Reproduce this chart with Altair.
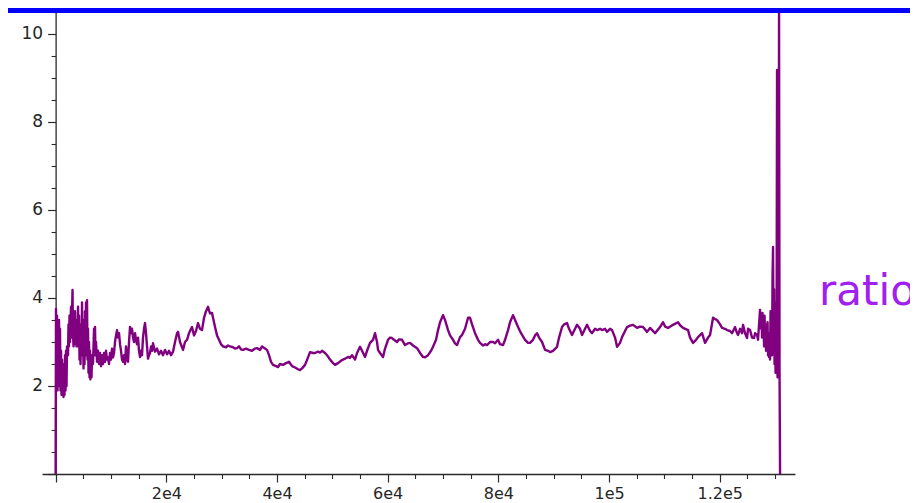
import altair as alt
import pandas as pd

# ---- data ----
x_start = [0, 70, 163, 253, 343, 434, 524, 614, 705, 795,
           885, 976, 1066, 1156, 1247, 1337, 1428, 1518, 1608, 1699,
           1789, 1879, 1970, 2060, 2241, 2331, 2421, 2512, 2602, 2783,
           2873, 3054, 3144, 3235, 3325, 3415, 3506, 3596, 3686, 3777,
           3867, 3957, 4048, 4138, 4228, 4319, 4409, 4499, 4590, 4680,
           4770, 4861, 4951, 5042, 5132, 5222, 5313, 5403, 5493, 5584,
           5674, 5764, 5855, 5945, 6035, 6126, 6216, 6306, 6397, 6487,
           6577, 6758, 6939, 7029, 7120, 7210, 7300, 7481, 7662, 7842]
y_start = [0.0, 3.75, 2.2, 3.6, 1.9, 3.1, 2.0, 3.5, 2.3, 3.3,
           1.9, 2.8, 1.8, 2.6, 1.85, 2.5, 1.75, 2.3, 1.8, 2.7,
           1.9, 2.8, 2.0, 2.9, 2.7, 3.4, 2.9, 3.6, 3.0, 3.8,
           3.1, 4.18, 3.2, 2.9, 3.5, 2.95, 3.7, 3.0, 3.5, 2.9,
           3.3, 2.9, 3.8, 3.0, 3.6, 2.6, 3.4, 2.5, 3.2, 2.7,
           3.9, 2.8, 3.5, 2.4, 3.2, 2.5, 3.7, 2.7, 3.9, 2.9,
           3.95, 2.6, 3.3, 2.3, 3.0, 2.2, 2.8, 2.15, 2.6, 2.2,
           2.7, 2.5, 3.3, 2.8, 3.34, 2.7, 3.0, 2.55, 2.8, 2.5]

x_early = [8023, 8204, 8385, 8565, 8746, 8927, 9107, 9288, 9469, 9649,
           9830, 10011, 10191, 10372, 10553, 10734, 10914, 11095, 11276, 11456,
           11637, 11818, 11998, 12179, 12360, 12541, 12721, 12902, 13083, 13263,
           13444, 13625, 13805, 13986, 14167, 14348, 14528, 14709, 14890, 15070,
           15251, 15432, 15612, 15793, 15974, 16155, 16335, 16516, 16697, 16877,
           17058, 17239, 17419, 17600]
y_early = [2.75, 2.45, 2.7, 2.5, 2.75, 2.55, 2.8, 2.6, 2.65, 2.5,
           2.75, 2.6, 2.85, 2.65, 2.75, 3.0, 3.15, 3.27, 3.1, 3.2,
           2.95, 2.8, 2.6, 2.55, 2.7, 2.5, 2.9, 2.6, 2.55, 3.0,
           3.34, 3.2, 3.3, 3.1, 3.0, 3.2, 3.05, 2.95, 3.1, 2.8,
           2.66, 2.8, 2.7, 3.1, 3.3, 3.43, 3.2, 2.9, 2.62, 2.7,
           2.75, 2.9, 2.8, 2.97]

x_main = [17962, 18323, 18684, 19046, 19407, 19769, 20130, 20491, 20853, 21214,
          21576, 21937, 22118, 22479, 22840, 23021, 23383, 23744, 24105, 24467,
          24647, 25009, 25370, 25732, 26093, 26454, 26816, 27177, 27539, 27719,
          27900, 28261, 28442, 28804, 29165, 29526, 29888, 30249, 30791, 31153,
          31514, 32056, 32418, 32779, 33140, 33502, 33863, 34405, 34947, 35489,
          36032, 36393, 36935, 37296, 37839, 38200, 38561, 38923, 39284, 39826,
          40188, 40549, 41091, 41633, 42176, 42718, 43260, 43802, 44163, 44525,
          45067, 45609, 45970, 46513, 46874, 47416, 47777, 48139, 48681, 49042,
          49584, 50126, 50488, 51030, 51753, 52295, 52837, 53198, 53559, 54102,
          54463, 55005, 55366, 55909, 56270, 56812, 57354, 57716, 58077, 58258,
          58619, 59161, 59523, 60065, 60426, 60787, 61149, 61691, 62052, 62595,
          63137, 63679, 64040, 64582, 65305, 65847, 66389, 66751, 67293, 67835,
          68196, 68738, 69100, 69461, 70003, 70365, 70907, 71268, 71810, 72172,
          72532, 73075, 73436, 73979, 74521, 74882, 75243, 75786, 76328, 76689,
          77231, 77593, 77954, 78496, 79038, 79400, 79942, 80303, 80845, 81207,
          81749, 82110, 82652, 83014, 83556, 84098, 84821, 85363, 85724, 86266,
          86628, 86989, 87350, 87893, 88435, 88977, 89338, 89880, 90603, 90964,
          91506, 91868, 92410, 92771, 93313, 93856, 94217, 94759, 95120, 95663,
          96024, 96566, 96927, 97470, 97831, 98373, 98734, 99277, 99638, 100180,
          100541, 101084, 101445, 101987, 102348, 102891, 103252, 103794, 104336, 105059,
          105601, 106143, 106866, 107408, 108312, 109215, 109757, 110119, 110661, 111564,
          112468, 112829, 113371, 114275, 114636, 115178, 115720, 116081, 116804, 117346,
          117888, 118250, 118792, 119153, 119514, 120057, 120418, 120960, 121321, 121864,
          122225, 122767, 123128, 123309, 123671, 124032, 124213, 124574, 124935, 125116,
          125478, 125839, 126200, 126381, 126742]
y_main = [2.78, 2.85, 2.72, 2.8, 2.7, 2.82, 2.72, 2.8, 2.7, 2.78,
          3.0, 3.2, 3.23, 3.0, 2.88, 2.82, 3.0, 3.05, 3.2, 3.3,
          3.34, 3.15, 3.25, 3.43, 3.3, 3.27, 3.55, 3.7, 3.8, 3.72,
          3.65, 3.66, 3.55, 3.34, 3.15, 3.05, 2.95, 2.9, 2.88, 2.92,
          2.9, 2.88, 2.85, 2.86, 2.9, 2.83, 2.82, 2.85, 2.82, 2.8,
          2.85, 2.86, 2.82, 2.9, 2.85, 2.82, 2.7, 2.55, 2.48, 2.45,
          2.43, 2.5, 2.48, 2.52, 2.55, 2.45, 2.42, 2.38, 2.36, 2.4,
          2.48, 2.65, 2.77, 2.75, 2.75, 2.78, 2.76, 2.8, 2.75, 2.7,
          2.6, 2.52, 2.48, 2.52, 2.59, 2.62, 2.66, 2.64, 2.7, 2.6,
          2.75, 2.89, 2.8, 2.66, 2.8, 2.98, 3.05, 3.2, 3.0, 2.82,
          2.75, 2.66, 2.85, 3.05, 3.1, 3.09, 3.05, 3.0, 3.06, 3.05,
          2.93, 2.97, 2.98, 2.92, 2.86, 2.75, 2.66, 2.65, 2.7, 2.8,
          2.89, 3.05, 3.27, 3.45, 3.61, 3.5, 3.27, 3.15, 3.05, 2.97,
          2.93, 3.11, 3.16, 3.3, 3.55, 3.55, 3.4, 3.2, 3.05, 2.98,
          2.92, 2.95, 2.93, 3.0, 3.0, 2.97, 3.05, 2.95, 2.93, 3.05,
          3.27, 3.45, 3.61, 3.5, 3.34, 3.2, 3.05, 2.98, 2.98, 3.05,
          3.15, 3.2, 3.1, 3.0, 2.82, 2.8, 2.77, 2.8, 2.89, 3.1,
          3.34, 3.4, 3.43, 3.3, 3.16, 3.3, 3.39, 3.3, 3.16, 3.3,
          3.39, 3.25, 3.2, 3.3, 3.27, 3.3, 3.27, 3.3, 3.23, 3.3,
          3.27, 3.1, 2.89, 2.98, 3.11, 3.25, 3.34, 3.37, 3.39, 3.32,
          3.35, 3.34, 3.23, 3.32, 3.2, 3.34, 3.45, 3.35, 3.32, 3.39,
          3.45, 3.38, 3.32, 3.27, 3.1, 2.98, 3.05, 3.11, 3.2, 2.98,
          3.1, 3.16, 3.55, 3.52, 3.5, 3.4, 3.32, 3.3, 3.27, 3.25,
          3.2, 3.34, 3.2, 3.16, 3.3, 3.2, 3.39, 3.2, 3.09, 3.3,
          3.27, 3.1, 3.09, 3.2, 3.16]

x_end = [126923, 127104, 127285, 127465, 127556, 127646, 127736, 127827, 127917, 128008,
         128098, 128188, 128279, 128369, 128459, 128550, 128640, 128730, 128821, 128911,
         129001, 129092, 129182, 129272, 129363, 129453, 129543, 129634, 129724, 129815,
         129905, 129995, 130086, 130176, 130266, 130357, 130447, 130537, 130628, 130718,
         130808, 130899]
y_end = [3.05, 3.4, 3.73, 3.3, 3.6, 3.1, 3.66, 3.2, 3.5, 2.9,
         3.6, 3.1, 3.4, 2.8, 3.3, 2.9, 3.45, 2.7, 3.2, 2.66,
         3.0, 2.6, 3.7, 2.9, 3.5, 2.7, 4.5, 5.16, 3.0, 4.2,
         2.5, 3.9, 2.3, 3.6, 2.4, 9.18, 2.2, 6.0, 3.0, 10.5,
         2.3, 0.0]

x_major = [0, 20000, 40000, 60000, 80000, 100000, 120000]
x_major_labels = ["", "2e4", "4e4", "6e4", "8e4", "1e5", "1.2e5"]
y_major = [0, 2, 4, 6, 8, 10]
y_major_labels = ["", "2", "4", "6", "8", "10"]
x_minor = [v for v in range(5000, 135000, 5000) if v % 20000 != 0]
y_minor = [v / 2 for v in range(1, 22) if v % 4 != 0]

x_domain = [-2460, 133600]
y_domain = [0, 10.59]
side_label = "ratio"

xs = x_start + x_early + x_main + x_end
ys = y_start + y_early + y_main + y_end
assert len(xs) == len(ys), (len(xs), len(ys))
df = pd.DataFrame({"x": xs, "y": ys})

W, H = 753, 466
y_axis_offset = -W * (0 - x_domain[0]) / (x_domain[1] - x_domain[0])


def label_expr(vals, labels):
    expr = "''"
    for v, l in zip(vals, labels):
        expr = f"datum.value == {v} ? '{l}' : ({expr})"
    return expr


AX = "#2a2a2a"
FONT = "DejaVu Sans"

xs_scale = alt.Scale(domain=x_domain, nice=False, zero=False)
ys_scale = alt.Scale(domain=y_domain, nice=False, zero=False)

line = alt.Chart(df).mark_line(color="#800080", strokeWidth=2.4, strokeJoin="round").encode(
    x=alt.X("x:Q", scale=xs_scale, title=None,
            axis=alt.Axis(orient="bottom", values=x_major,
                          labelExpr=label_expr(x_major, x_major_labels),
                          grid=False, tickSize=8, tickWidth=1.2, tickColor=AX,
                          domainColor=AX, domainWidth=1.3,
                          labelFont=FONT, labelFontSize=16, labelColor="#262626",
                          labelPadding=3, labelOverlap=False, labelFlush=False)),
    y=alt.Y("y:Q", scale=ys_scale, title=None,
            axis=alt.Axis(orient="left", values=y_major,
                          labelExpr=label_expr(y_major, y_major_labels),
                          grid=False, tickSize=8, tickWidth=1.2, tickColor=AX,
                          domainColor=AX, domainWidth=1.3, offset=y_axis_offset,
                          labelFont=FONT, labelFontSize=17, labelColor="#262626",
                          labelPadding=5, labelOverlap=False, labelFlush=False)),
)

minor = alt.Chart(df).mark_point(opacity=0).encode(
    x=alt.X("x:Q", scale=xs_scale, title=None,
            axis=alt.Axis(orient="bottom", values=x_minor, labels=False, domain=False,
                          grid=False, tickSize=4.5, tickWidth=1.1, tickColor=AX)),
    y=alt.Y("y:Q", scale=ys_scale, title=None,
            axis=alt.Axis(orient="left", values=y_minor, labels=False, domain=False,
                          grid=False, tickSize=4.5, tickWidth=1.1, tickColor=AX,
                          offset=y_axis_offset)),
)

text = alt.Chart(pd.DataFrame({"t": [side_label]})).mark_text(
    align="left", baseline="alphabetic", font=FONT, fontSize=42, color="#A020F0"
).encode(x=alt.value(777), y=alt.value(297), text="t:N")

bar = alt.Chart(pd.DataFrame({"a": [0]})).mark_rect(color="#0000FF").encode(
    x=alt.value(-34), x2=alt.value(868), y=alt.value(0), y2=alt.value(5)
)

chart = alt.layer(line, minor, text, bar).resolve_axis(x="independent", y="independent").properties(
    width=W, height=H, autosize="none",
    padding={"left": 34, "top": 0, "right": 115, "bottom": 29},
).configure_view(stroke=None)

chart.save("out.html", embed_options={"renderer": "svg", "actions": False})
